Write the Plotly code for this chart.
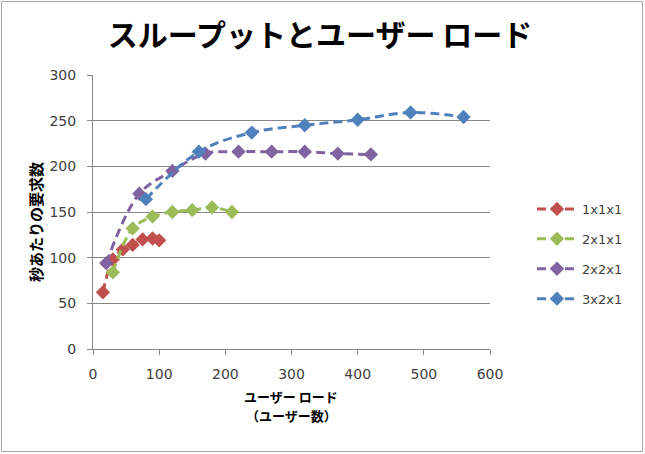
import plotly.graph_objects as go

series_names = ["1x1x1", "2x1x1", "2x2x1", "3x2x1"]
colors = ["#C0504D", "#9BBB59", "#8064A2", "#4F81BD"]

x_1x1x1 = [15, 30, 45, 60, 75, 90, 100]
y_1x1x1 = [62, 98, 109, 114, 120, 121, 119]

x_2x1x1 = [30, 60, 90, 120, 150, 180, 210]
y_2x1x1 = [84, 132, 145, 150, 152, 155, 150]

x_2x2x1 = [20, 70, 120, 170, 220, 270, 320, 370, 420]
y_2x2x1 = [94, 170, 195, 214, 216, 216, 216, 214, 213]

x_3x2x1 = [80, 160, 240, 320, 400, 480, 560]
y_3x2x1 = [164, 216, 237, 245, 251, 259, 254]

xs = [x_1x1x1, x_2x1x1, x_2x2x1, x_3x2x1]
ys = [y_1x1x1, y_2x1x1, y_2x2x1, y_3x2x1]

title_text = "スループットとユーザー ロード"
x_title_lines = ["ユーザー ロード", "（ユーザー数）"]
y_title = "秒あたりの要求数"

W, H = 645, 454
ML, MR, MT, MB = 93, 155, 75, 105
PW, PH = W - ML - MR, H - MT - MB

jp = "Noto Sans CJK JP"
num_font = "DejaVu Sans"


def px2x(p):
    return (p - ML) / PW


def py2y(p):
    return (H - MB - p) / PH


fig = go.Figure()
for i, name in enumerate(series_names):
    fig.add_trace(go.Scatter(
        x=xs[i], y=ys[i], name=name, mode="lines+markers",
        line=dict(color=colors[i], width=3, dash="9px,5px", shape="spline", smoothing=1.0),
        marker=dict(symbol="diamond", size=11, color=colors[i]),
        legendgroup=name,
    ))

# outer frame of the chart
fig.add_shape(type="rect", xref="paper", yref="paper",
              x0=px2x(1.5), x1=px2x(W - 2.5), y0=py2y(H - 2.5), y1=py2y(1.5),
              line=dict(color="#A6A6A6", width=1), fillcolor="rgba(0,0,0,0)", layer="below")

# x-axis title (two lines)
fig.add_annotation(text="<b>" + x_title_lines[0] + "</b>", xref="paper", yref="paper",
                   x=px2x(291), y=py2y(396), xanchor="center", yanchor="middle",
                   showarrow=False, font=dict(family=jp, size=13, color="#000000"))
fig.add_annotation(text="<b>" + x_title_lines[1] + "</b>", xref="paper", yref="paper",
                   x=px2x(291), y=py2y(415), xanchor="center", yanchor="middle",
                   showarrow=False, font=dict(family=jp, size=13, color="#000000"))
# y-axis title
fig.add_annotation(text="<b>" + y_title + "</b>", xref="paper", yref="paper",
                   x=px2x(35), y=py2y(222), xanchor="center", yanchor="middle",
                   textangle=-90, showarrow=False,
                   font=dict(family=jp, size=15, color="#000000"))

fig.update_layout(
    width=W, height=H,
    margin=dict(l=ML, r=MR, t=MT, b=MB, pad=0, autoexpand=False),
    paper_bgcolor="white", plot_bgcolor="white",
    title=dict(text="<b>" + title_text + "</b>", x=320 / W, xanchor="center",
               y=1 - 35 / H, yanchor="middle",
               font=dict(family=jp, size=30, color="#000000")),
    showlegend=True,
    legend=dict(x=px2x(532), xanchor="left", y=py2y(254), yanchor="middle",
                font=dict(family=num_font, size=13, color="#404040"),
                tracegroupgap=10, traceorder="grouped", itemwidth=40,
                bgcolor="rgba(0,0,0,0)"),
    xaxis=dict(range=[0, 600], dtick=100, tick0=0, showgrid=False,
               showline=True, linecolor="#868686", linewidth=1,
               ticks="outside", ticklen=5, tickcolor="#868686",
               tickfont=dict(family=num_font, size=14, color="#404040"),
               ticklabelstandoff=7, zeroline=False, automargin=False),
    yaxis=dict(range=[0, 300], dtick=50, tick0=0, showgrid=True,
               gridcolor="#878787", gridwidth=1,
               showline=True, linecolor="#868686", linewidth=1,
               ticks="outside", ticklen=5, tickcolor="#868686",
               tickfont=dict(family=num_font, size=14, color="#404040"),
               ticklabelstandoff=8, zeroline=False, automargin=False),
)

fig.write_html("out.html",
               config={"displayModeBar": False},
               post_script="document.body.style.margin='0';document.body.style.padding='0';")
